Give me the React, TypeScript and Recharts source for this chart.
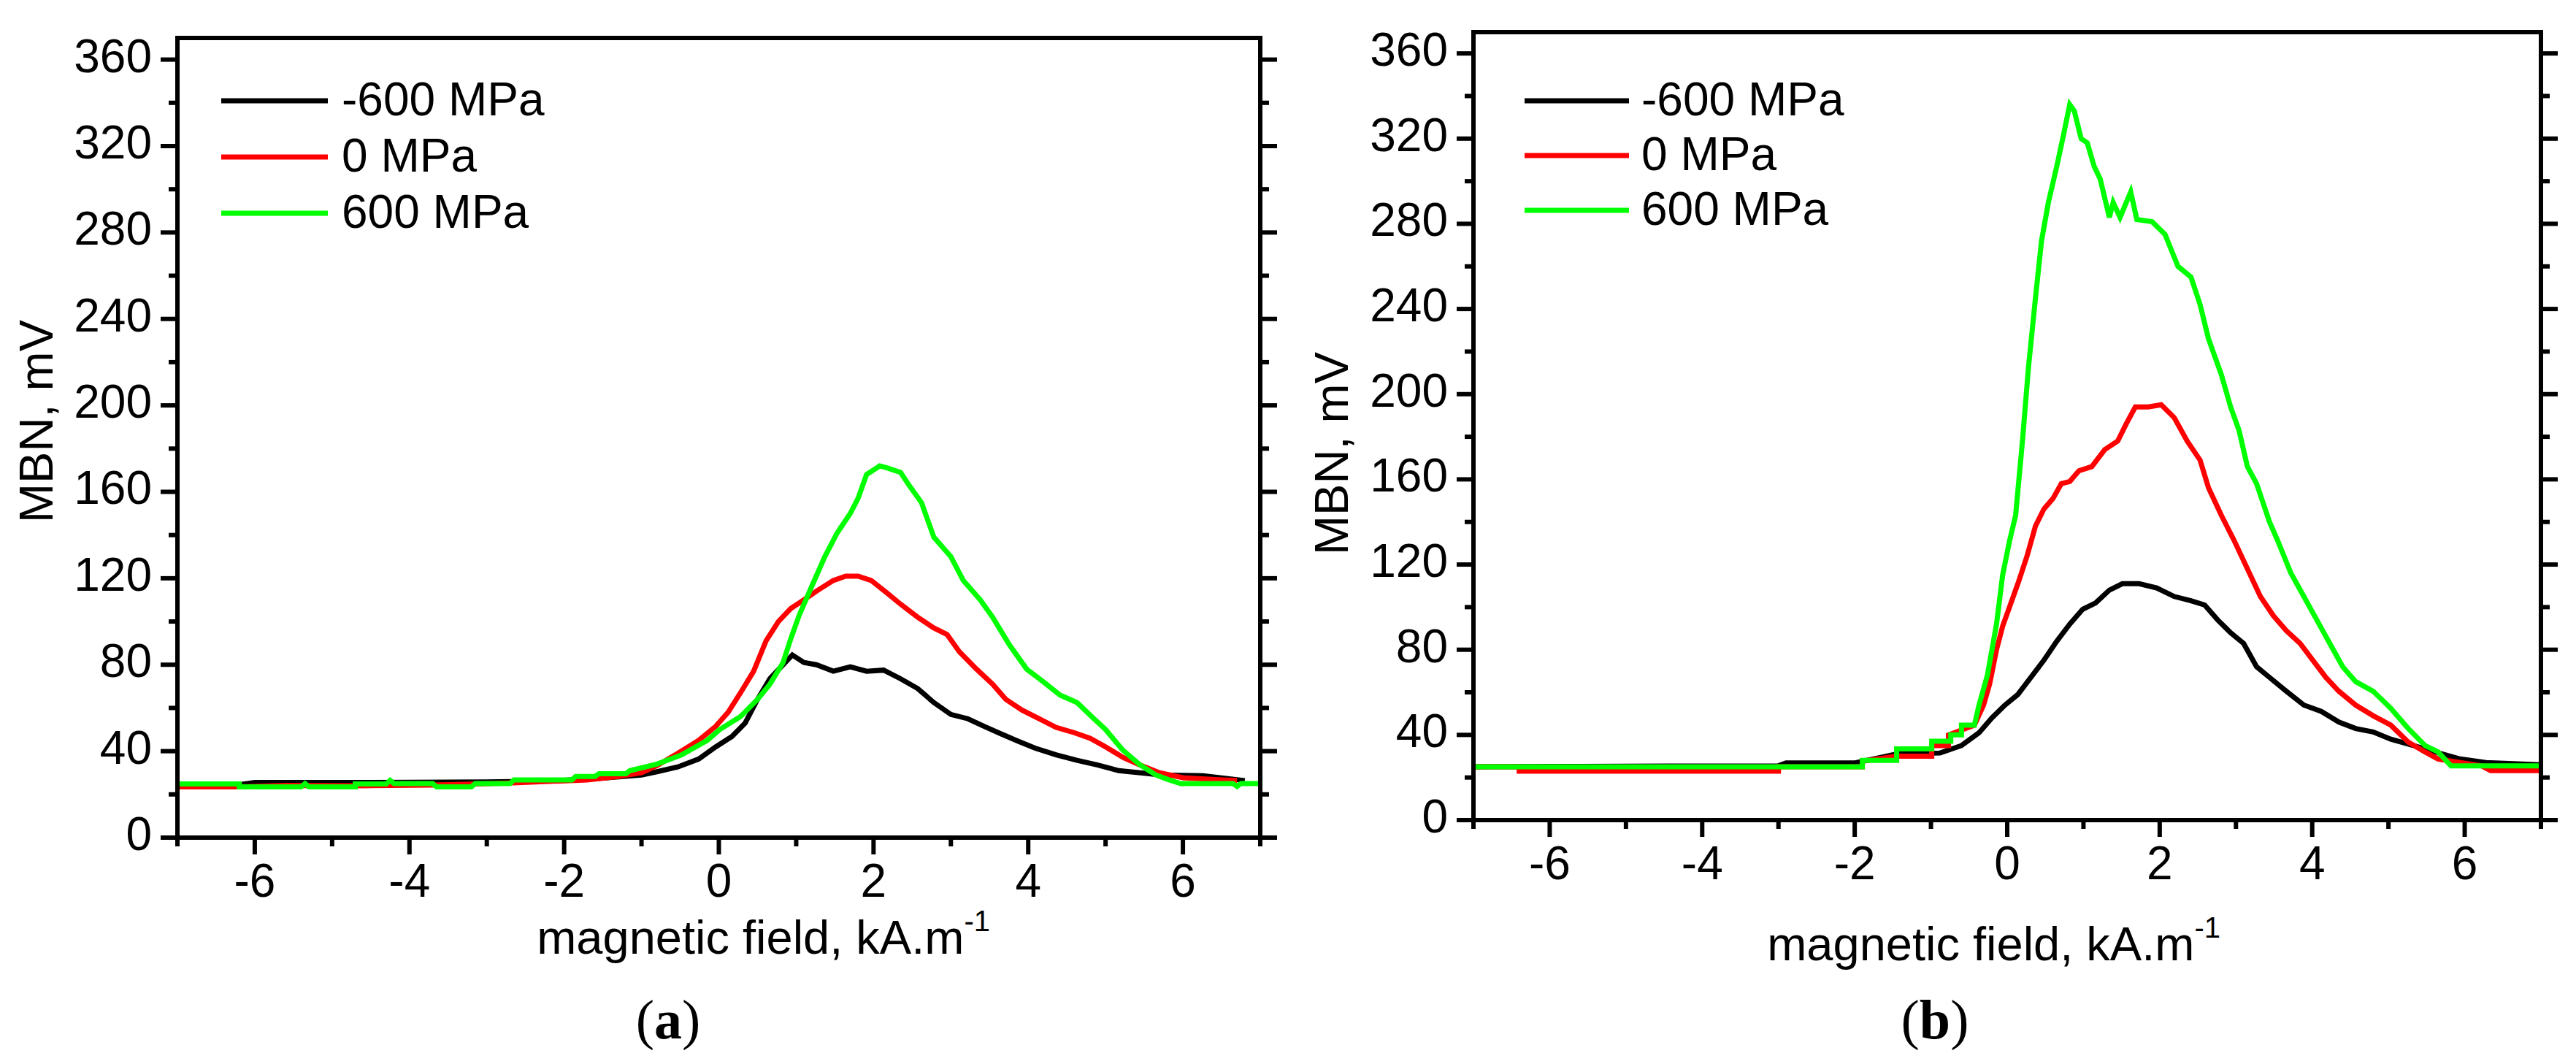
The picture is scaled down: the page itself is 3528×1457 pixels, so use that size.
import React from "react";
import { LineChart, Line, XAxis, YAxis, Legend, Label } from "recharts";

type Pair = [number, number];

// magnetic field (kA/m) axis and MBN (mV) axis
const fieldTicks = [-7, -6, -5, -4, -3, -2, -1, 0, 1, 2, 3, 4, 5, 6, 7];
const mbnTicks = [0, 20, 40, 60, 80, 100, 120, 140, 160, 180, 200, 220, 240, 260, 280, 300, 320, 340, 360];
const stressNames = ["-600 MPa", "0 MPa", "600 MPa"];
const stressColors = ["#000000", "#ff0000", "#00ff00"];

// (a) MBN envelopes, [field, mV]
const aMinus600: Pair[] = [
  [-7, 24.5], [-6.2, 24.5], [-6.0, 25.5], [-5, 25.5], [-4, 25.6], [-3, 25.8], [-2.5, 26], [-2, 26.5],
  [-1.5, 27.5], [-1.0, 29], [-0.8, 30.5], [-0.53, 32.7], [-0.26, 36.4], [-0.04, 42], [0.17, 46.8],
  [0.34, 53], [0.5, 64], [0.66, 73.5], [0.83, 80], [0.95, 84.5], [1.1, 81], [1.26, 80], [1.48, 77],
  [1.7, 79], [1.91, 77], [2.13, 77.5], [2.35, 73.5], [2.57, 69], [2.78, 62.5], [3.0, 57], [3.22, 55],
  [3.43, 51.5], [3.65, 48], [3.87, 44.6], [4.09, 41.4], [4.36, 38.3], [4.63, 35.8], [4.9, 33.6],
  [5.17, 31], [5.45, 30], [5.72, 29], [6.26, 28.6], [6.8, 26.4],
];
const aZero: Pair[] = [
  [-7, 23.5], [-6.2, 23.5], [-5.6, 24.2], [-4.6, 24], [-3.7, 24.3], [-3.1, 24.8], [-2.6, 25.4],
  [-1.7, 26.7], [-1.3, 28.3], [-1.0, 30], [-0.8, 33.3], [-0.53, 39], [-0.26, 45], [-0.04, 51.5],
  [0.12, 58], [0.28, 67], [0.45, 77], [0.61, 91], [0.77, 100], [0.93, 106], [1.1, 110], [1.26, 114],
  [1.48, 119], [1.64, 121], [1.8, 121], [1.97, 119], [2.18, 113], [2.35, 108], [2.57, 102], [2.78, 97],
  [2.95, 94], [3.11, 86], [3.33, 78], [3.54, 71], [3.71, 64], [3.92, 59], [4.14, 55], [4.36, 51],
  [4.6, 48.5], [4.8, 46], [5.0, 42], [5.23, 37], [5.45, 33.5], [5.7, 30], [6.0, 27.7], [6.5, 26.7],
  [6.7, 26.4],
];
const aPlus600: Pair[] = [
  [-7, 24.8], [-6.2, 24.8], [-6.2, 23.5], [-5.4, 23.5], [-5.35, 25], [-5.3, 23.5], [-4.7, 23.5],
  [-4.7, 24.8], [-4.3, 24.8], [-4.25, 26.5], [-4.2, 25], [-3.7, 25], [-3.65, 23.5], [-3.2, 23.5],
  [-3.15, 25], [-2.7, 25], [-2.65, 26.7], [-1.9, 26.7], [-1.85, 28.3], [-1.6, 28.3], [-1.55, 29.6],
  [-1.2, 29.6], [-1.15, 31], [-0.8, 34], [-0.48, 38.3], [-0.15, 45], [0.01, 50], [0.28, 56], [0.5, 64],
  [0.66, 71], [0.83, 81], [0.93, 92], [1.04, 103], [1.21, 117], [1.37, 130], [1.53, 141], [1.7, 150],
  [1.8, 157], [1.91, 168], [2.08, 172], [2.18, 171], [2.35, 169], [2.46, 163], [2.62, 155], [2.78, 139],
  [3.0, 130], [3.16, 119], [3.38, 110], [3.54, 102], [3.76, 89], [3.98, 78], [4.2, 72], [4.41, 66],
  [4.63, 62.5], [4.85, 55], [5.0, 50], [5.22, 40.6], [5.44, 33.8], [5.65, 29], [5.8, 27], [5.97, 25],
  [6.65, 25], [6.7, 23.7], [6.75, 25], [7, 25],
];

// (b) MBN envelopes, [field, mV]
const bMinus600: Pair[] = [
  [-7, 25], [-5, 25.3], [-3, 25.5], [-2.9, 26.8], [-2, 26.8], [-1.45, 31], [-0.88, 31.5], [-0.6, 35],
  [-0.37, 41], [-0.2, 48], [-0.03, 54], [0.14, 59], [0.31, 67], [0.48, 75], [0.65, 84], [0.82, 92],
  [0.99, 99], [1.16, 102], [1.34, 108], [1.51, 111], [1.73, 111], [1.96, 109], [2.19, 105], [2.41, 103],
  [2.59, 101], [2.76, 94], [2.93, 88], [3.1, 83], [3.27, 72], [3.44, 67], [3.66, 60.5], [3.89, 54],
  [4.12, 51], [4.35, 46], [4.57, 43], [4.8, 41.4], [5.03, 38], [5.26, 35.7], [5.48, 33.4], [5.71, 31],
  [5.94, 28.7], [6.28, 27], [7, 26],
];
const bZero: Pair[] = [
  [-7, 25], [-6.4, 25], [-6.4, 23], [-3, 23], [-3, 25], [-1.9, 25], [-1.9, 27.7], [-1.45, 30],
  [-0.99, 30], [-0.99, 35], [-0.77, 35], [-0.77, 40], [-0.43, 44.6], [-0.31, 54], [-0.23, 64],
  [-0.14, 80], [-0.06, 91], [0.03, 100], [0.14, 111], [0.26, 124], [0.37, 138], [0.48, 146], [0.6, 151],
  [0.71, 158], [0.82, 159], [0.94, 164], [1.11, 166], [1.28, 174], [1.45, 178], [1.56, 186], [1.68, 194],
  [1.85, 194], [2.02, 195], [2.19, 189], [2.36, 178], [2.53, 169], [2.64, 156], [2.81, 143], [2.98, 131],
  [3.15, 118], [3.32, 105], [3.49, 96], [3.66, 89], [3.84, 83], [4.01, 75], [4.18, 67], [4.35, 60.5],
  [4.57, 54], [4.8, 49], [5.03, 44.6], [5.26, 36.6], [5.48, 32], [5.65, 28.7], [5.94, 27], [6.22, 25.5],
  [6.34, 23.2], [7, 23.2],
];
const bPlus600: Pair[] = [
  [-7, 25], [-1.9, 25], [-1.9, 28], [-1.45, 28], [-1.45, 33.4], [-0.99, 33.4], [-0.99, 37], [-0.74, 37],
  [-0.74, 40], [-0.6, 40], [-0.6, 44.6], [-0.43, 44.6], [-0.37, 54], [-0.26, 68], [-0.14, 92], [-0.06, 115],
  [0.03, 131], [0.11, 143], [0.2, 178], [0.28, 213], [0.37, 245], [0.45, 272], [0.54, 290], [0.65, 307],
  [0.74, 322], [0.82, 336], [0.88, 333], [0.97, 320], [1.05, 318], [1.14, 307], [1.22, 301], [1.34, 283],
  [1.39, 290], [1.48, 283], [1.62, 295], [1.7, 282], [1.9, 281], [2.07, 275], [2.24, 260], [2.41, 255],
  [2.53, 242], [2.64, 226], [2.81, 209], [2.93, 194], [3.04, 183], [3.15, 166], [3.27, 158], [3.44, 140],
  [3.55, 131], [3.72, 116], [3.89, 105], [4.06, 94], [4.23, 83], [4.4, 72], [4.57, 65], [4.8, 60.5],
  [5.03, 52.5], [5.26, 43], [5.48, 35], [5.65, 32], [5.82, 25.5], [7, 25.5],
];

const FONT = '"Liberation Sans", Arial, Helvetica, sans-serif';
const SERIF = '"Liberation Serif", "Times New Roman", serif';
const PANEL_W = 1764;
const PANEL_H = 1457;
const MAJOR = 23;
const MINOR = 12;
const AXIS_W = 6;
const LINE_W = 7;

const toPoints = (pairs: Pair[]) => pairs.map(([x, y]) => ({ x, y }));

const tickText = { fontFamily: FONT, fontSize: 64, fill: "#000" };

function BottomTick({ x, y, payload }: any) {
  const major = payload.value % 2 === 0;
  return (
    <g>
      <line x1={x} y1={y} x2={x} y2={y + (major ? MAJOR : MINOR)} stroke="#000" strokeWidth={AXIS_W} />
      {major && (
        <text x={x} y={y + 81} textAnchor="middle" {...tickText}>
          {payload.value}
        </text>
      )}
    </g>
  );
}

function TopTick({ x, y, payload }: any) {
  const major = payload.value % 2 === 0;
  return <line x1={x} y1={y} x2={x} y2={y - (major ? MAJOR : MINOR)} stroke="#000" strokeWidth={AXIS_W} />;
}

function LeftTick({ x, y, payload }: any) {
  const major = payload.value % 40 === 0;
  return (
    <g>
      <line x1={x} y1={y} x2={x - (major ? MAJOR : MINOR)} y2={y} stroke="#000" strokeWidth={AXIS_W} />
      {major && (
        <text x={x - 35} y={y + 17} textAnchor="end" {...tickText}>
          {payload.value}
        </text>
      )}
    </g>
  );
}

function RightTick({ x, y, payload }: any) {
  const major = payload.value % 40 === 0;
  return <line x1={x} y1={y} x2={x + (major ? MAJOR : MINOR)} y2={y} stroke="#000" strokeWidth={AXIS_W} />;
}

interface PanelProps {
  left: number;
  series: Pair[][];
  plot: { left: number; top: number; right: number; bottom: number };
  legend: { x0: number; x1: number; textX: number; rows: number[] };
  xTitle: { endX: number; baseline: number };
  yTitle: { cx: number; cy: number };
}

function MbnPanel({ left, series, plot, legend, xTitle, yTitle }: PanelProps) {
  const axisLine = { stroke: "#000", strokeWidth: AXIS_W, strokeLinecap: "square" as const };

  const renderLegend = (props: any) => (
    <svg width={PANEL_W} height={360} style={{ display: "block" }}>
      {(props.payload || []).map((item: any, i: number) => (
        <g key={item.value}>
          <line x1={legend.x0} x2={legend.x1} y1={legend.rows[i]} y2={legend.rows[i]} stroke={item.color} strokeWidth={LINE_W} />
          <text x={legend.textX} y={legend.rows[i] + 20} {...tickText}>
            {item.value}
          </text>
        </g>
      ))}
    </svg>
  );

  return (
    <div style={{ position: "absolute", left, top: 0 }}>
      <LineChart width={PANEL_W} height={PANEL_H} margin={{ top: 0, right: 0, bottom: 0, left: 0 }}>
        <XAxis
          xAxisId={0}
          type="number"
          dataKey="x"
          domain={[-7, 7]}
          ticks={fieldTicks}
          interval={0}
          allowDataOverflow
          height={PANEL_H - plot.bottom}
          tickSize={0}
          tickMargin={0}
          tick={<BottomTick />}
          axisLine={axisLine}
        >
          <Label
            content={() => (
              <text x={xTitle.endX} y={xTitle.baseline} textAnchor="end" fontFamily={FONT} fontSize={65} fill="#000">
                magnetic field, kA.m
                <tspan fontSize={40} dy={-31}>-1</tspan>
              </text>
            )}
          />
        </XAxis>
        <XAxis
          xAxisId="top"
          orientation="top"
          type="number"
          domain={[-7, 7]}
          ticks={fieldTicks}
          interval={0}
          allowDataOverflow
          height={plot.top}
          tickSize={0}
          tickMargin={0}
          tick={<TopTick />}
          axisLine={axisLine}
        />
        <YAxis
          yAxisId={0}
          type="number"
          domain={[0, 370]}
          ticks={mbnTicks}
          interval={0}
          allowDataOverflow
          width={plot.left}
          tickSize={0}
          tickMargin={0}
          tick={<LeftTick />}
          axisLine={axisLine}
        >
          <Label
            content={() => (
              <text
                x={yTitle.cx}
                y={yTitle.cy}
                transform={`rotate(-90 ${yTitle.cx} ${yTitle.cy})`}
                textAnchor="middle"
                dominantBaseline="central"
                fontFamily={FONT}
                fontSize={65}
                fill="#000"
              >
                MBN, mV
              </text>
            )}
          />
        </YAxis>
        <YAxis
          yAxisId="right"
          orientation="right"
          type="number"
          domain={[0, 370]}
          ticks={mbnTicks}
          interval={0}
          allowDataOverflow
          width={PANEL_W - plot.right}
          tickSize={0}
          tickMargin={0}
          tick={<RightTick />}
          axisLine={axisLine}
        />
        <Legend
          layout="vertical"
          align="center"
          verticalAlign="middle"
          wrapperStyle={{ left: 0, top: 0, width: PANEL_W, height: 360 }}
          content={renderLegend}
        />
        {series.map((pairs, i) => (
          <Line
            key={stressNames[i]}
            xAxisId={0}
            yAxisId={0}
            name={stressNames[i]}
            data={toPoints(pairs)}
            dataKey="y"
            type="linear"
            stroke={stressColors[i]}
            strokeWidth={LINE_W}
            dot={false}
            activeDot={false}
            isAnimationActive={false}
          />
        ))}
      </LineChart>
    </div>
  );
}

export default function App() {
  return (
    <div
      style={{
        position: "absolute",
        left: 0,
        top: 0,
        width: PANEL_W * 2,
        height: PANEL_H,
        background: "#fff",
        overflow: "hidden",
      }}
    >
      <MbnPanel
        left={0}
        series={[aMinus600, aZero, aPlus600]}
        plot={{ left: 243, top: 52, right: 1726, bottom: 1147 }}
        legend={{ x0: 303, x1: 449, textX: 468, rows: [138, 215, 292] }}
        xTitle={{ endX: 1356, baseline: 1306 }}
        yTitle={{ cx: 49, cy: 577 }}
      />
      <MbnPanel
        left={PANEL_W}
        series={[bMinus600, bZero, bPlus600]}
        plot={{ left: 254, top: 44, right: 1716, bottom: 1123 }}
        legend={{ x0: 324, x1: 467, textX: 484, rows: [138, 213, 288] }}
        xTitle={{ endX: 1277, baseline: 1315 }}
        yTitle={{ cx: 59, cy: 621 }}
      />
      <svg width={PANEL_W * 2} height={PANEL_H} style={{ position: "absolute", left: 0, top: 0, pointerEvents: "none" }}>
        <text x={915} y={1422} textAnchor="middle" fontFamily={SERIF} fontSize={76} fill="#000">
          (<tspan fontWeight="bold">a</tspan>)
        </text>
        <text x={2650} y={1422} textAnchor="middle" fontFamily={SERIF} fontSize={76} fill="#000">
          (<tspan fontWeight="bold">b</tspan>)
        </text>
      </svg>
    </div>
  );
}
